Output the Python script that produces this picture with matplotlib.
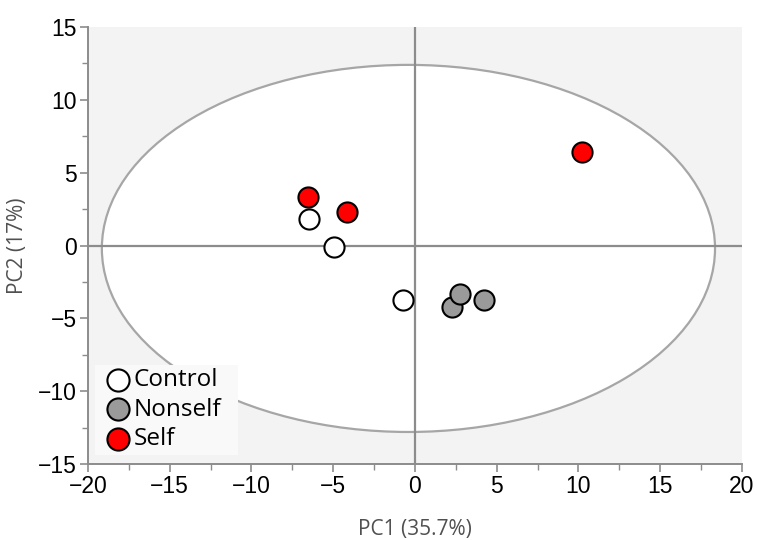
import matplotlib
matplotlib.use("Agg")
import matplotlib.pyplot as plt
from matplotlib.patches import Ellipse, Rectangle
from matplotlib.ticker import MultipleLocator

groups = ["Control", "Nonself", "Self"]
colors = ["#ffffff", "#9a9a9a", "#ff0000"]
pc1 = {
    "Control": [-6.5, -4.95, -0.73],
    "Nonself": [2.26, 2.75, 4.2],
    "Self": [-6.54, -4.16, 10.2],
}
pc2 = {
    "Control": [1.8, -0.12, -3.75],
    "Nonself": [-4.25, -3.35, -3.75],
    "Self": [3.35, 2.33, 6.4],
}
ellipse_center = (-0.4, -0.2)
ellipse_w, ellipse_h = 37.5, 25.2

plt.rcParams["font.family"] = ["Liberation Sans", "DejaVu Sans"]

fig = plt.figure(figsize=(7.57, 5.40), dpi=100)
ax = fig.add_axes([0.1162, 0.1407, 0.8640, 0.8093])
ax.set_facecolor("#f3f3f3")
ax.set_xlim(-20, 20)
ax.set_ylim(-15, 15)

ell = Ellipse(ellipse_center, ellipse_w, ellipse_h, facecolor="white",
              edgecolor="#a6a6a6", lw=1.6, zorder=1)
ax.add_patch(ell)
ax.axhline(0, color="#8c8c8c", lw=1.6, zorder=2)
ax.axvline(0, color="#8c8c8c", lw=1.6, zorder=2)

for g, c in zip(groups, colors):
    ax.scatter(pc1[g], pc2[g], s=210, facecolor=c, edgecolor="black",
               linewidths=1.5, zorder=5, label=g)

for s in ["top", "right"]:
    ax.spines[s].set_visible(False)
for s in ["left", "bottom"]:
    ax.spines[s].set_color("#8c8c8c")
    ax.spines[s].set_linewidth(1.4)

ax.xaxis.set_major_locator(MultipleLocator(5))
ax.xaxis.set_minor_locator(MultipleLocator(2.5))
ax.yaxis.set_major_locator(MultipleLocator(5))
ax.yaxis.set_minor_locator(MultipleLocator(2.5))
ax.tick_params(which="major", length=6, width=1.2, color="#8c8c8c",
               labelsize=16.5, labelcolor="black", pad=2)
ax.tick_params(which="minor", length=4, width=1.0, color="#8c8c8c")

lab_font = ["Open Sans", "DejaVu Sans"]
ax.set_xlabel("PC1 (35.7%)", fontsize=15, color="#505050", family=lab_font)
ax.set_ylabel("PC2 (17%)", fontsize=15, color="#505050", family=lab_font)
ax.xaxis.set_label_coords(0.5, -0.150)
ax.xaxis.label.set_va("center")
ax.yaxis.set_label_coords(-0.107, 0.5)
ax.yaxis.label.set_va("center")

# legend background panel
ax.add_patch(Rectangle((0.0107, 0.0206), 0.218, 0.206, transform=ax.transAxes,
                       facecolor="#f9f9f9", edgecolor="none", zorder=6))
leg = ax.legend(loc="lower left", bbox_to_anchor=(0.0237, 0.030), frameon=False,
                prop={"family": lab_font, "size": 17.5},
                handletextpad=0.05, borderpad=0.0,
                labelspacing=0.22, handlelength=1.2, borderaxespad=0.0,
                markerscale=1.1)
leg.set_zorder(7)

fig.savefig("out.png", dpi=100)
